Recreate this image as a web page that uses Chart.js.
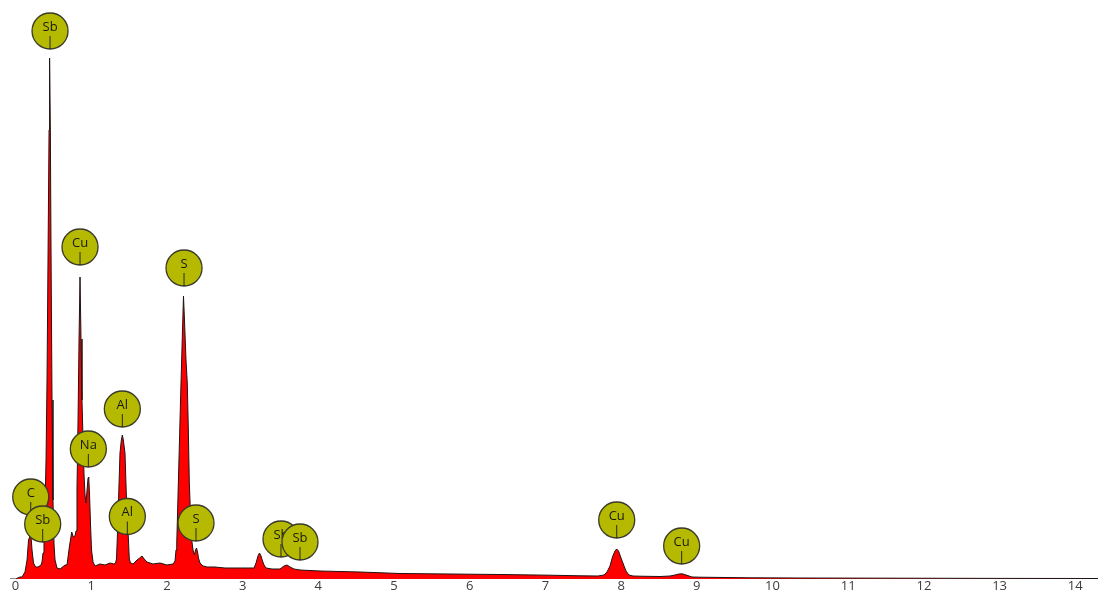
<!DOCTYPE html>
<html>
<head>
<meta charset="utf-8">
<script src="https://cdn.jsdelivr.net/npm/chart.js@4/dist/chart.umd.min.js"></script>
<style>
  html, body { margin: 0; padding: 0; background: #ffffff; }
  #wrap { position: relative; width: 1100px; height: 594px; }
</style>
</head>
<body>
<div id="wrap"><canvas id="spectrum"></canvas></div>
<script>
// EDS spectrum: energy (keV) and counts
const energyKeV = [
  -0.073, 0.000, 0.059, 0.086, 0.125, 0.152, 0.172, 0.192, 0.205, 0.218,
  0.238, 0.264, 0.297, 0.337, 0.350, 0.363, 0.376, 0.390, 0.403, 0.416,
  0.429, 0.443, 0.450, 0.460, 0.469, 0.482, 0.495, 0.509, 0.522, 0.548,
  0.588, 0.654, 0.680, 0.711, 0.742, 0.764, 0.786, 0.799, 0.812, 0.826,
  0.839, 0.852, 0.865, 0.878, 0.892, 0.905, 0.918, 0.931, 0.945, 0.958,
  0.967, 0.978, 0.991, 1.004, 1.024, 1.050, 1.116, 1.182, 1.248, 1.300,
  1.321, 1.334, 1.345, 1.358, 1.380, 1.398, 1.411, 1.424, 1.446, 1.469,
  1.490, 1.503, 1.519, 1.552, 1.605, 1.640, 1.671, 1.700, 1.737, 1.816,
  1.909, 2.001, 2.081, 2.107, 2.120, 2.130, 2.151, 2.186, 2.206, 2.219,
  2.232, 2.252, 2.269, 2.283, 2.296, 2.312, 2.328, 2.345, 2.362, 2.378,
  2.391, 2.404, 2.417, 2.437, 2.477, 2.530, 2.635, 2.767, 2.966, 3.151,
  3.177, 3.203, 3.223, 3.243, 3.263, 3.283, 3.310, 3.388, 3.494, 3.547,
  3.587, 3.626, 3.679, 3.758, 4.023, 4.551, 5.079, 5.740, 6.400, 7.061,
  7.457, 7.695, 7.774, 7.814, 7.853, 7.886, 7.919, 7.942, 7.966, 7.999,
  8.029, 8.064, 8.104, 8.157, 8.249, 8.514, 8.646, 8.712, 8.765, 8.805,
  8.858, 8.937, 9.043, 9.703, 10.364, 11.685, 13.006, 14.300
];
const counts = [
  0, 0, 20, 20, 70, 190, 390, 430, 420, 290,
  160, 120, 120, 140, 170, 260, 440, 740, 1190, 1990,
  3190, 4490, 5210, 4490, 3290, 1790, 790, 340, 190, 110,
  100, 140, 140, 320, 470, 420, 430, 480, 900, 1600,
  2400, 3020, 2400, 1790, 1390, 1040, 840, 760, 890, 1010,
  1020, 840, 540, 290, 170, 130, 150, 140, 160, 150,
  160, 200, 420, 720, 1260, 1390, 1440, 1390, 1260, 720,
  420, 200, 160, 150, 190, 210, 230, 200, 170, 150,
  160, 140, 150, 180, 290, 360, 960, 1960, 2490, 2830,
  2590, 2190, 1960, 1490, 960, 640, 390, 290, 240, 290,
  310, 270, 210, 160, 130, 120, 120, 110, 110, 110,
  160, 230, 260, 230, 180, 140, 110, 100, 100, 130,
  140, 120, 100, 90, 80, 70, 55, 50, 45, 38,
  32, 30, 40, 70, 130, 220, 280, 300, 280, 210,
  150, 80, 40, 30, 28, 25, 30, 40, 50, 52,
  40, 20, 18, 12, 10, 8, 6, 5
];

// Element markers: name, energy (keV) and height of the marker centre
const peakNames = ['Sb', 'Cu', 'S', 'Al', 'Na', 'C', 'Sb', 'Al', 'S', 'Sb', 'Sb', 'Cu', 'Cu'];
const peakKeV   = [0.456, 0.852, 2.226, 1.411, 0.962, 0.201, 0.359, 1.477, 2.384, 3.507, 3.758, 7.942, 8.800];
const peakLevel = [5480, 3320, 3110, 1700, 1300, 820, 550, 625, 560, 400, 370, 590, 330];

// Axis tick labels (keV)
const tickValues = [0, 1, 2, 3, 4, 5, 6, 7, 8, 9, 10, 11, 12, 13, 14];

const points = energyKeV.map((e, i) => ({ x: e, y: counts[i] }));

const peakMarkers = {
  id: 'peakMarkers',
  afterDatasetsDraw(chart) {
    const { ctx, scales } = chart;
    const r = 18;
    ctx.save();
    peakNames.forEach((name, i) => {
      const cx = scales.x.getPixelForValue(peakKeV[i]);
      const cy = scales.y.getPixelForValue(peakLevel[i]);
      ctx.beginPath();
      ctx.arc(cx, cy, r, 0, Math.PI * 2);
      ctx.fillStyle = '#b5b900';
      ctx.fill();
      ctx.lineWidth = 1.3;
      ctx.strokeStyle = '#3a3a2a';
      ctx.stroke();
      ctx.beginPath();
      ctx.moveTo(cx, cy + 5);
      ctx.lineTo(cx, cy + r);
      ctx.lineWidth = 1;
      ctx.strokeStyle = '#2a2a1a';
      ctx.stroke();
      ctx.fillStyle = '#1a1a10';
      ctx.font = '13px "Open Sans", sans-serif';
      ctx.textAlign = 'center';
      ctx.textBaseline = 'middle';
      ctx.fillText(name, cx, cy - 4);
    });
    ctx.restore();
  }
};

new Chart(document.getElementById('spectrum'), {
  type: 'line',
  data: {
    datasets: [{
      data: points,
      borderColor: '#1e1414',
      borderWidth: 1,
      backgroundColor: '#ff0000',
      fill: 'origin',
      pointRadius: 0,
      tension: 0
    }]
  },
  options: {
    responsive: true,
    maintainAspectRatio: false,
    animation: false,
    devicePixelRatio: 1,
    layout: { padding: { left: 10, right: 2, top: 0, bottom: 0 } },
    plugins: { legend: { display: false }, tooltip: { enabled: false } },
    scales: {
      x: {
        type: 'linear',
        min: -0.073,
        max: 14.3,
        afterBuildTicks: (scale) => { scale.ticks = tickValues.map(v => ({ value: v })); },
        grid: { display: false, drawTicks: false },
        border: { display: false },
        ticks: {
          padding: 1,
          color: '#3c3c3c',
          font: { family: '"Open Sans", sans-serif', size: 13, lineHeight: 1.0 },
          maxRotation: 0,
          autoSkip: false
        }
      },
      y: {
        display: false,
        min: 0,
        max: 5790
      }
    }
  },
  plugins: [peakMarkers]
});
</script>
</body>
</html>
